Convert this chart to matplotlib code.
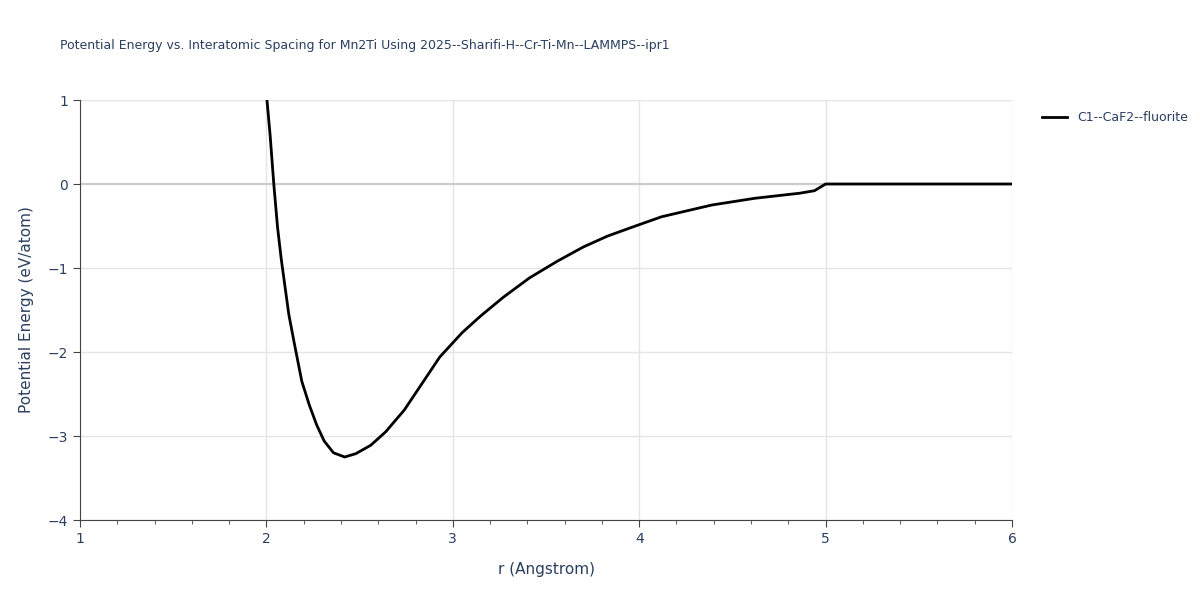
import matplotlib
matplotlib.use("Agg")
import matplotlib.pyplot as plt

r = [2.003, 2.02, 2.04, 2.06, 2.08, 2.12, 2.15, 2.19, 2.23, 2.27, 2.31, 2.36, 2.42, 2.48, 2.56, 2.64, 2.74,
     2.93, 3.05, 3.15, 3.27, 3.41, 3.56, 3.70, 3.83, 3.98, 4.12, 4.39, 4.62, 4.86, 4.94, 5.0, 5.5, 6.0]
energy = [1.0, 0.58, -0.01, -0.52, -0.9, -1.55, -1.9, -2.35, -2.63, -2.87, -3.06, -3.2, -3.25, -3.21, -3.11,
          -2.95, -2.69, -2.06, -1.77, -1.57, -1.35, -1.12, -0.92, -0.75, -0.62, -0.50, -0.39, -0.25, -0.17,
          -0.11, -0.08, 0.0, 0.0, 0.0]
series_name = "C1--CaF2--fluorite"
title = "Potential Energy vs. Interatomic Spacing for Mn2Ti Using 2025--Sharifi-H--Cr-Ti-Mn--LAMMPS--ipr1"

fig = plt.figure(figsize=(12, 6), dpi=100)
ax = fig.add_axes([80/1200, 80/600, 932/1200, 420/600])
tc = "#2a3f5f"
ax.plot(r, energy, color="black", lw=2, label=series_name, zorder=3)
ax.set_xlim(1, 6)
ax.set_ylim(-4, 1)
ax.set_xticks([1, 2, 3, 4, 5, 6])
ax.set_yticks([-4, -3, -2, -1, 0, 1])
ax.set_xticks([1.2, 1.4, 1.6, 1.8, 2.2, 2.4, 2.6, 2.8, 3.2, 3.4, 3.6, 3.8, 4.2, 4.4, 4.6, 4.8, 5.2, 5.4, 5.6, 5.8], minor=True)
ax.grid(True, color="#e5e5e5", lw=1)
ax.axhline(0, color="#cccccc", lw=1.5, zorder=2)
for s in ["top", "right"]:
    ax.spines[s].set_visible(False)
for s in ["left", "bottom"]:
    ax.spines[s].set_color("#444444")
ax.tick_params(colors="#444444", labelcolor=tc, labelsize=10, length=5, direction="out")
ax.tick_params(which="minor", length=3, color="#444444")
ax.set_yticklabels(["\u22124", "\u22123", "\u22122", "\u22121", "0", "1"])
ax.set_xlabel("r (Angstrom)", color=tc, fontsize=11, labelpad=12)
ax.set_ylabel("Potential Energy (eV/atom)", color=tc, fontsize=11, labelpad=10)
fig.text(60/1200, 1 - 46/600, title, color=tc, fontsize=9, va="center")
ax.legend(loc="upper left", bbox_to_anchor=(1.02, 1.0), frameon=False, fontsize=9, labelcolor=tc, handlelength=2)
fig.savefig("out.png")
